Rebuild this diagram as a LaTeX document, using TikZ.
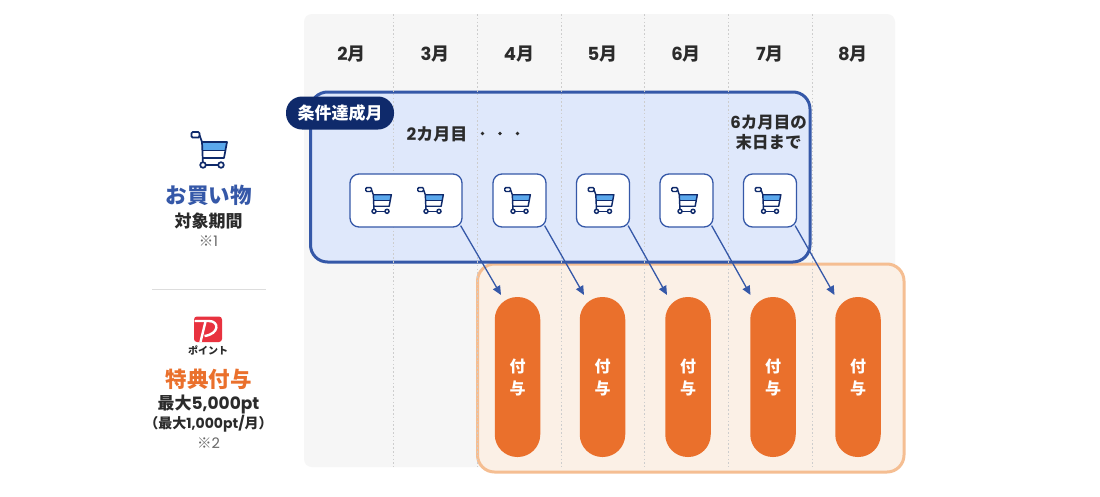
\documentclass[tikz,border=0pt]{standalone}
\usepackage{fontspec}
\setmainfont{Noto Sans CJK JP}
\newfontfamily\lat{Poppins}
\usetikzlibrary{arrows.meta}
\definecolor{panelgray}{HTML}{F6F6F6}
\definecolor{dotgray}{HTML}{CDCDCD}
\definecolor{bluefill}{HTML}{DFE8FB}
\definecolor{blueline}{HTML}{3558A8}
\definecolor{navy}{HTML}{0F2A6B}
\definecolor{orangefill}{HTML}{FBF0E6}
\definecolor{orangeline}{HTML}{F5BE92}
\definecolor{pillorange}{HTML}{EA702C}
\definecolor{inktext}{HTML}{2B2B2B}
\definecolor{graytext}{HTML}{666666}
\definecolor{cartband}{HTML}{5BA8EC}
\definecolor{ruleline}{HTML}{DDDDDD}
\definecolor{payred}{HTML}{E8323F}
\newcommand{\fs}[1]{\fontsize{#1}{#1}\selectfont}
\def\cw{1}
\tikzset{
  x=1pt,y=-1pt,
  txt/.style={inner sep=0pt,outer sep=0pt,align=center,text=inktext,font=\bfseries\fs{16}},
  month/.style={txt,font=\bfseries\fs{18}},
  dotline/.style={draw=dotgray,line width=.9pt,dash pattern=on 1.6pt off 2.2pt},
  bigbox/.style={line width=3pt,rounded corners=17pt},
  shopbox/.style={draw=blueline,fill=white,line width=1.3pt,rounded corners=9pt,minimum height=53pt,inner sep=0pt},
  pill/.style={fill=pillorange,rounded corners=22.5pt,minimum width=45.5pt,minimum height=160pt,inner sep=0pt,text=white,align=center,font=\bfseries\fs{16}},
  flow/.style={draw=blueline,line width=1.3pt,-{Triangle[length=9pt,width=8pt]}},
  pics/cart/.style={code={
    \fill[white] (-6.5,-8) -- (18.5,-8) -- (15.5,8) -- (-5.5,8) -- cycle;
    \fill[cartband] (-6.5,-8) -- (18.5,-8) -- (17,0) -- (-6,0) -- cycle;
    \draw[navy,line width=\cw*1.7pt,fill=white,rounded corners=1.2pt] (-17,-18) rectangle (-9,-12.5);
    \draw[navy,line width=\cw*1.7pt,line join=round] (-9,-15) -- (-6.5,-8) -- (-5.5,15);
    \draw[navy,line width=\cw*1.7pt,line join=round] (-6.5,-8) -- (18.5,-8) -- (15.5,8) -- (-5.5,8);
    \draw[navy,line width=\cw*1pt] (-6,0) -- (17,0);
    \draw[navy,line width=\cw*1.7pt] (-5.5,15) -- (12.5,15);
    \draw[navy,line width=\cw*1.7pt,fill=white] (-5.5,15) circle (2.8);
    \draw[navy,line width=\cw*1.7pt,fill=white] (12.5,15) circle (2.8);
  }}
}
\begin{document}
\begin{tikzpicture}
\useasboundingbox (0,0) rectangle (1100,496);
\fill[white] (0,0) rectangle (1100,496);
% background panel
\fill[panelgray,rounded corners=8pt] (304,14) rectangle (895,467);
% months
\foreach \nm/\x/\d in {m2/351.5/2,m3/435/3,m4/519/4,m5/602.5/5,m6/686/6,m7/770/7,m8/853/8}
  \node[month] (\nm) at (\x,54) {{\lat\d}月};
% big boxes
\draw[bigbox,draw=orangeline,fill=orangefill] (477.5,264) rectangle (904,472);
\draw[bigbox,draw=blueline,fill=bluefill] (310.5,92) rectangle (810,262);
% dotted month separators
\foreach \x in {393.5,477,561,644.5,728,812}
  \draw[dotline] (\x,14) -- (\x,467);
% condition label
\node[fill=navy,text=white,rounded corners=16pt,minimum width=108pt,minimum height=33pt,inner sep=0pt,font=\bfseries\fs{17}] (cond) at (340,113) {条件達成月};
\node[txt,font=\bfseries\fs{17}] (second) at (437,134) {{\lat 2}カ月目};
\foreach \nm/\x in {d1/482.5,d2/500,d3/517.5}
  \fill[inktext] (\x,133.5) circle (1.8) coordinate (\nm);
\node[txt,font=\bfseries\fs{16.5}] (sixth) at (768.5,133) {{\lat 6}カ月目の\\[3.5pt]末日まで};
% shopping boxes
\node[shopbox,minimum width=112pt] (s1) at (406,200.5) {};
\node[shopbox,minimum width=53pt] (s2) at (519.5,200.5) {};
\node[shopbox,minimum width=53pt] (s3) at (603,200.5) {};
\node[shopbox,minimum width=53pt] (s4) at (686.5,200.5) {};
\node[shopbox,minimum width=53pt] (s5) at (770,200.5) {};
\begin{scope}
\def\cw{.85}
\foreach \x in {378,430,517,600.5,684,767.5}
  \pic[scale=.72,transform shape] at (\x,200.5) {cart};
\end{scope}
% award pills
\node[pill] (p1) at (517.5,377) {付\\[6pt]与};
\node[pill] (p2) at (602.5,377) {付\\[6pt]与};
\node[pill] (p3) at (688,377) {付\\[6pt]与};
\node[pill] (p4) at (773,377) {付\\[6pt]与};
\node[pill] (p5) at (858,377) {付\\[6pt]与};
% arrows
\coordinate (e1) at (501,295);
\coordinate (e2) at (584,295);
\coordinate (e3) at (667,295);
\coordinate (e4) at (750.5,295);
\coordinate (e5) at (834.5,295);
\draw[flow] ([shift={(-2,-2)}]s1.south east) -- (e1);
\draw[flow] ([shift={(-2,-2)}]s2.south east) -- (e2);
\draw[flow] ([shift={(-2,-2)}]s3.south east) -- (e3);
\draw[flow] ([shift={(-2,-2)}]s4.south east) -- (e4);
\draw[flow] ([shift={(-2,-2)}]s5.south east) -- (e5);
% left column
\pic at (208.5,150) {cart};
\node[txt,text=blueline,font=\bfseries\fs{21.5}] (shop) at (208.5,195) {お買い物};
\node[txt,font=\bfseries\fs{17}] (period) at (208.5,221) {対象期間};
\node[txt,text=graytext,font=\fs{14.5}] (n1) at (208.5,241) {※{\lat 1}};
\draw[ruleline,line width=1pt] (152,289.5) -- (265.5,289.5);
\fill[payred,rounded corners=3pt] (194,316.5) rectangle (222,342);
\draw[white,line width=2.4pt] (194.5,321) -- (209,321) .. controls (219.5,321) and (219.5,334) .. (204.5,336);
\draw[white,line width=2.4pt] (205.5,321.5) -- (200.5,342);
\node[txt,text=inktext,font=\bfseries\fs{10}] (pt) at (208,350.5) {ポイント};
\node[txt,text=pillorange,font=\bfseries\fs{21.5}] (award) at (208.5,379) {特典付与};
\node[txt,font=\bfseries\fs{17}] (max) at (208.5,404) {最大{\lat 5,000pt}};
\node[txt,font=\bfseries\fs{14}] (maxm) at (208.5,424) {（最大{\lat 1,000pt/}月）};
\node[txt,text=graytext,font=\fs{14.5}] (n2) at (208.5,443) {※{\lat 2}};
\end{tikzpicture}
\end{document}
